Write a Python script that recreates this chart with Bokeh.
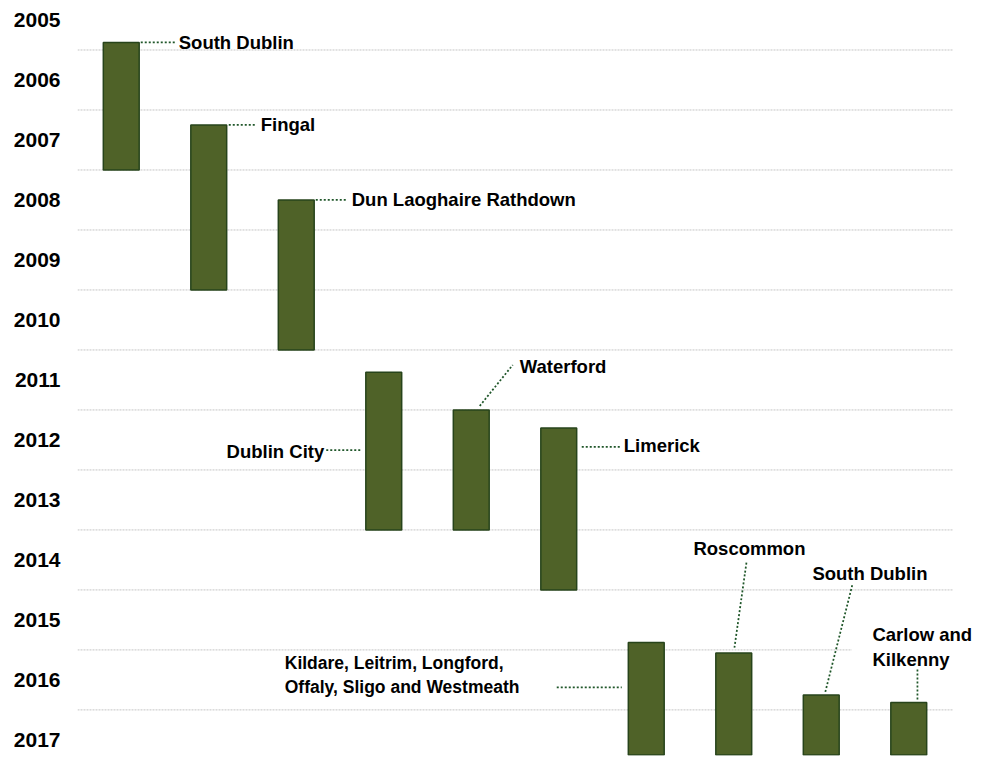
from bokeh.plotting import figure
from bokeh.models import Range1d, FixedTicker, Label
from bokeh.embed import file_html
from bokeh.resources import INLINE

# Periods (fractional years) for each local authority
areas = ["South Dublin", "Fingal", "Dun Laoghaire Rathdown", "Dublin City",
         "Waterford", "Limerick",
         "Kildare, Leitrim, Longford,\nOffaly, Sligo and Westmeath",
         "Roscommon", "South Dublin", "Carlow and\nKilkenny"]
period_start = [2005.875, 2007.25, 2008.5, 2011.37, 2012.0, 2012.3,
                2015.875, 2016.05, 2016.75, 2016.875]
period_end = [2008.0, 2010.0, 2011.0, 2014.0, 2014.0, 2015.0,
              2017.75, 2017.75, 2017.75, 2017.75]
years = list(range(2005, 2018))

FONT = "Liberation Sans"
BAR_FILL = "#4F6228"
BAR_LINE = "#27441B"
LEADER = "#1F5629"

Y_TOP, Y_BOTTOM = 2005.175, 2017.76
W, H = 987, 762
LEFT, TOP, BOTTOM = 77, 0, 7
n = len(areas)
X_END = n + 0.4          # room on the right for the last label

p = figure(width=W, height=H, output_backend="svg", toolbar_location=None,
           x_range=Range1d(0, X_END), y_range=Range1d(Y_BOTTOM, Y_TOP),
           min_border_left=LEFT, min_border_right=0,
           min_border_top=TOP, min_border_bottom=BOTTOM)
p.outline_line_color = None
p.background_fill_color = "white"
p.border_fill_color = "white"
p.xaxis.visible = False
p.xgrid.visible = False
p.ygrid.visible = False

# pixel scale of the plotting frame
px_x = (W - LEFT) / X_END
px_y = (H - TOP - BOTTOM) / (Y_BOTTOM - Y_TOP)

# year labels sit in the middle of each year band
yax = p.yaxis[0]
yax.ticker = FixedTicker(ticks=[y + 0.5 for y in years])
yax.major_label_overrides = {y + 0.5: str(y) for y in years}
yax.axis_line_color = None
yax.major_tick_line_color = None
yax.minor_tick_line_color = None
yax.major_label_standoff = 11
yax.major_label_text_font = FONT
yax.major_label_text_font_style = "bold"
yax.major_label_text_font_size = "21px"
yax.major_label_text_color = "black"

# dotted grid lines on the year boundaries, spanning the bar area only
bounds = years[1:]
p.segment(x0=[0] * len(bounds), x1=[n] * len(bounds), y0=bounds, y1=bounds,
          line_color="#C4C4C4", line_dash="2 1", line_width=1)

xs = [i + 0.5 for i in range(n)]
p.vbar(x=xs, width=0.41, top=period_start, bottom=period_end,
       fill_color=BAR_FILL, line_color=BAR_LINE, line_width=1.5)

# label placement in pixels, relative to the centre of each bar's top edge:
# (leader start, leader end, text position, text align)
layout = [
    ((19.5, 0), (55.5, 0), (57.5, 0), "left"),
    ((20, 0), (46, 0), (52, 0), "left"),
    ((19.5, 0), (50.5, 0), (55.5, 0), "left"),
    ((-57.5, 78), (-21.5, 78), (-59.5, 79), "right"),
    ((8.5, -4), (41.5, -45), (48.5, -43), "left"),
    ((23, 19), (61, 19), (65, 18), "left"),
    ((-89.5, 45), (-24.5, 45), (-361.5, 33), "left"),
    ((12.7, -90.3), (0.7, -5.3), (15.7, -104.3), "center"),
    ((31, -109.7), (4, -2.7), (48.7, -121.7), "center"),
    ((8.7, -33), (8.7, -2), (-36.3, -55), "left"),
]
sizes = ["18.5px"] * n
sizes[6] = "17.5px"


def to_data(i, off):
    return xs[i] + off[0] / px_x, period_start[i] + off[1] / px_y


# white text box behind the Carlow/Kilkenny label
bx0, by0 = to_data(9, (-57, -78))
bx1, by1 = to_data(9, (76, -30))
p.quad(left=bx0, right=bx1, top=by0, bottom=by1,
       fill_color="white", line_color=None)

for i, (a, b, t, align) in enumerate(layout):
    x0, y0 = to_data(i, a)
    x1, y1 = to_data(i, b)
    p.line([x0, x1], [y0, y1], line_color=LEADER, line_width=1.75,
           line_dash="2 2")
    tx, ty = to_data(i, t)
    p.add_layout(Label(x=tx, y=ty, text=areas[i], text_font=FONT,
                       text_font_style="bold", text_font_size=sizes[i],
                       text_align=align, text_baseline="middle",
                       text_color="black", text_line_height=1.2))

open("out.html", "w").write(file_html(p, INLINE))
